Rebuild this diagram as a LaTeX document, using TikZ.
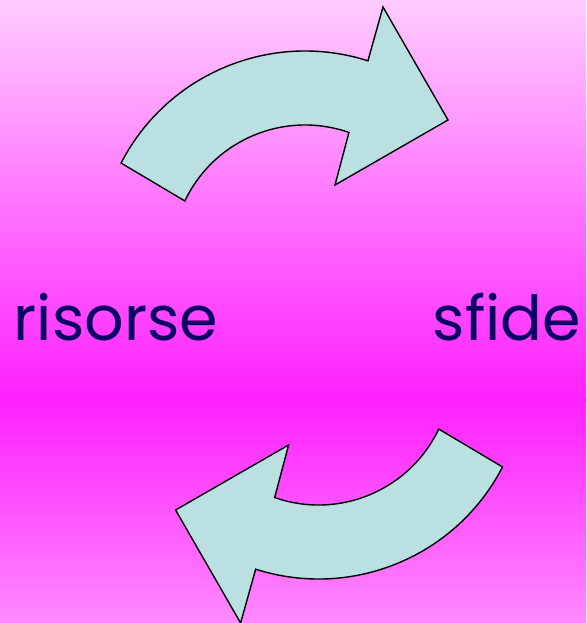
\documentclass[tikz,border=0pt]{standalone}
\usepackage{fontspec}
\usetikzlibrary{calc}
\newfontfamily\labelfont{Poppins}
\definecolor{bgtop}{RGB}{255,204,255}
\definecolor{bgmid}{RGB}{255,32,255}
\definecolor{bgbot}{RGB}{255,138,255}
\definecolor{arrowfill}{RGB}{186,224,225}
\definecolor{navytext}{RGB}{10,0,100}
\tikzset{
  curvedarrow/.style={fill=arrowfill, draw=black, line width=1.4pt, line join=miter},
  wordlabel/.style={text=navytext, font=\labelfont\fontsize{62}{62}\selectfont, inner sep=0pt, anchor=base}
}
\newcommand\curvedarrowpath{%
  ($(305,258)+(-152.7:207)$) arc[start angle=-152.7, end angle=-72.3, radius=207]
  -- (383,7) -- (448,120) -- (335,185) -- ($(305,258)+(-70.7:133)$)
  arc[start angle=-70.7, end angle=-154.6, radius=133] -- cycle}
\begin{document}
\begin{tikzpicture}[x=1pt,y=-1pt]
\useasboundingbox (0,0) rectangle (586,623);
\shade[top color=bgtop, bottom color=bgmid] (0,0) rectangle (586,400);
\shade[top color=bgmid, bottom color=bgbot] (0,399.5) rectangle (586,623);
% top arrow
\draw[curvedarrow] \curvedarrowpath;
% bottom arrow (point reflection)
\begin{scope}[rotate around={180:(311.8,315)}]
\draw[curvedarrow] \curvedarrowpath;
\end{scope}
\node[wordlabel] (risorse) at (116,340) {risorse};
\node[wordlabel] (sfide) at (507,340) {sfide};
\end{tikzpicture}
\end{document}
